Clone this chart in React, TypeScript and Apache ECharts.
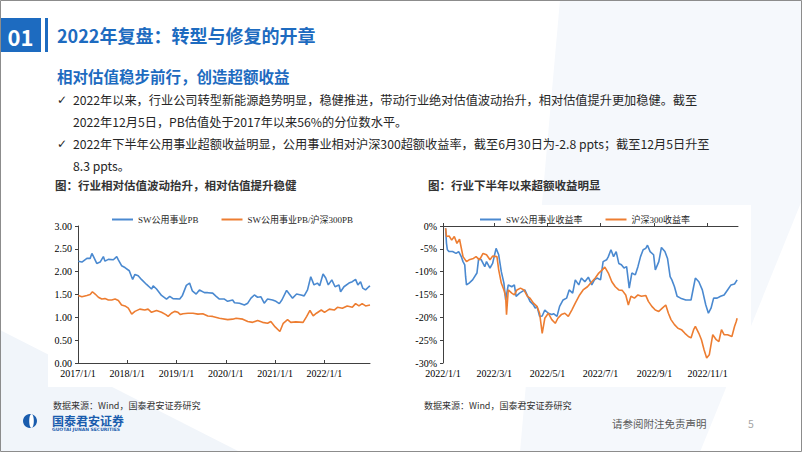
import React, { useEffect, useRef } from "react";
import * as echarts from "echarts";

// ---------- DATA ----------
const leftYearTicks = ["2017/1/1", "2018/1/1", "2019/1/1", "2020/1/1", "2021/1/1", "2022/1/1"];
const rightMonthTicks = ["2022/1/1", "2022/3/1", "2022/5/1", "2022/7/1", "2022/9/1", "2022/11/1"];

const pbUtility: [string, number][] = [
  ["2017-01-03", 2.23], ["2017-01-30", 2.21], ["2017-03-08", 2.29], ["2017-04-01", 2.29], ["2017-04-14", 2.4],
  ["2017-04-26", 2.33], ["2017-05-20", 2.18], ["2017-06-14", 2.21], ["2017-07-08", 2.33], ["2017-07-20", 2.23],
  ["2017-08-14", 2.27], ["2017-09-20", 2.26], ["2017-10-15", 2.33], ["2017-10-27", 2.26], ["2017-11-20", 2.13],
  ["2017-12-15", 2.09], ["2018-01-16", 2.02], ["2018-02-10", 1.83], ["2018-02-27", 1.94], ["2018-03-23", 1.91],
  ["2018-04-16", 1.83], ["2018-05-24", 1.72], ["2018-06-30", 1.62], ["2018-07-12", 1.69], ["2018-08-06", 1.62],
  ["2018-09-12", 1.48], ["2018-10-19", 1.4], ["2018-11-12", 1.46], ["2018-12-06", 1.41], ["2019-01-25", 1.4],
  ["2019-02-14", 1.48], ["2019-03-15", 1.7], ["2019-04-08", 1.75], ["2019-04-28", 1.58], ["2019-05-27", 1.51],
  ["2019-06-20", 1.6], ["2019-07-27", 1.54], ["2019-08-21", 1.54], ["2019-09-26", 1.53], ["2019-10-22", 1.46],
  ["2019-11-15", 1.4], ["2019-12-22", 1.4], ["2020-01-15", 1.35], ["2020-02-21", 1.38], ["2020-03-06", 1.32],
  ["2020-04-12", 1.31], ["2020-05-18", 1.27], ["2020-06-12", 1.31], ["2020-07-06", 1.42], ["2020-07-31", 1.49],
  ["2020-08-24", 1.44], ["2020-09-18", 1.45], ["2020-10-12", 1.31], ["2020-11-06", 1.4], ["2020-12-13", 1.38],
  ["2021-01-07", 1.35], ["2021-02-01", 1.3], ["2021-02-20", 1.38], ["2021-03-27", 1.59], ["2021-04-16", 1.51],
  ["2021-05-10", 1.42], ["2021-06-09", 1.51], ["2021-07-11", 1.49], ["2021-08-04", 1.47], ["2021-08-29", 1.6],
  ["2021-09-22", 1.89], ["2021-10-16", 1.71], ["2021-11-10", 1.75], ["2021-11-27", 1.69], ["2021-12-22", 1.95],
  ["2022-01-11", 1.86], ["2022-01-30", 1.71], ["2022-02-25", 1.82], ["2022-03-21", 1.67], ["2022-04-19", 1.71],
  ["2022-05-01", 1.56], ["2022-05-26", 1.67], ["2022-07-02", 1.75], ["2022-07-27", 1.78], ["2022-08-20", 1.83],
  ["2022-09-06", 1.71], ["2022-09-26", 1.78], ["2022-10-12", 1.64], ["2022-11-02", 1.6], ["2022-11-26", 1.67],
  ["2022-12-05", 1.69],
];

const pbRelative: [string, number][] = [
  ["2017-01-03", 1.48], ["2017-01-30", 1.45], ["2017-03-08", 1.48], ["2017-04-01", 1.5], ["2017-04-18", 1.56],
  ["2017-05-08", 1.51], ["2017-06-01", 1.44], ["2017-06-26", 1.4], ["2017-07-20", 1.41], ["2017-08-14", 1.38],
  ["2017-09-08", 1.38], ["2017-10-03", 1.4], ["2017-10-27", 1.37], ["2017-11-20", 1.27], ["2017-12-15", 1.25],
  ["2018-01-09", 1.2], ["2018-02-03", 1.07], ["2018-02-27", 1.13], ["2018-04-04", 1.18], ["2018-05-11", 1.16],
  ["2018-06-04", 1.18], ["2018-06-30", 1.11], ["2018-08-06", 1.15], ["2018-09-12", 1.11], ["2018-10-14", 1.06],
  ["2018-10-31", 1.02], ["2018-11-24", 1.09], ["2018-12-18", 1.13], ["2019-01-12", 1.11], ["2019-01-30", 1.06],
  ["2019-02-18", 1.08], ["2019-03-27", 1.09], ["2019-05-03", 1.09], ["2019-06-09", 1.07], ["2019-07-15", 1.08],
  ["2019-08-21", 1.03], ["2019-09-26", 1.02], ["2019-11-15", 0.98], ["2020-01-15", 0.95], ["2020-02-21", 0.96],
  ["2020-03-18", 0.98], ["2020-05-06", 0.96], ["2020-06-12", 0.91], ["2020-07-18", 0.89], ["2020-08-24", 0.93],
  ["2020-09-30", 0.89], ["2020-11-06", 0.87], ["2020-11-30", 0.91], ["2021-01-01", 0.79], ["2021-02-05", 0.69],
  ["2021-03-02", 0.87], ["2021-04-03", 0.95], ["2021-04-27", 0.89], ["2021-06-03", 0.9], ["2021-07-27", 0.89],
  ["2021-08-23", 1.02], ["2021-09-16", 1.15], ["2021-10-10", 1.03], ["2021-11-03", 1.09], ["2021-12-09", 1.16],
  ["2022-01-02", 1.11], ["2022-02-07", 1.18], ["2022-03-15", 1.16], ["2022-04-08", 1.22], ["2022-05-14", 1.2],
  ["2022-06-19", 1.25], ["2022-07-27", 1.22], ["2022-08-20", 1.3], ["2022-09-14", 1.25], ["2022-10-08", 1.3],
  ["2022-11-02", 1.25], ["2022-12-05", 1.27],
];

const retUtility: [string, number][] = [
  ["2022-01-04", -0.5], ["2022-01-05", -3.8], ["2022-01-06", -5.2], ["2022-01-08", -5.6], ["2022-01-12", -5.6],
  ["2022-01-16", -6.0], ["2022-01-19", -5.6], ["2022-01-22", -6.7], ["2022-01-24", -7.8], ["2022-01-26", -8.5],
  ["2022-01-27", -11.1], ["2022-01-28", -12.9], ["2022-01-31", -12.5], ["2022-02-04", -11.8], ["2022-02-09", -10.3],
  ["2022-02-11", -7.1], ["2022-02-14", -7.4], ["2022-02-18", -8.9], ["2022-02-20", -7.8], ["2022-02-24", -9.2],
  ["2022-02-27", -8.2], ["2022-03-03", -4.9], ["2022-03-06", -6.3], ["2022-03-09", -10.0], ["2022-03-12", -12.5],
  ["2022-03-14", -16.2], ["2022-03-17", -12.9], ["2022-03-21", -13.3], ["2022-03-24", -12.9], ["2022-03-26", -15.4],
  ["2022-03-30", -14.7], ["2022-04-05", -14.0], ["2022-04-11", -16.5], ["2022-04-15", -17.3], ["2022-04-17", -18.0],
  ["2022-04-19", -17.6], ["2022-04-22", -19.8], ["2022-04-25", -19.7], ["2022-04-28", -18.4], ["2022-05-02", -19.1],
  ["2022-05-06", -19.4], ["2022-05-08", -19.2], ["2022-05-12", -19.8], ["2022-05-15", -17.6], ["2022-05-19", -16.2],
  ["2022-05-23", -15.8], ["2022-05-26", -14.0], ["2022-05-30", -14.7], ["2022-06-02", -11.8], ["2022-06-06", -12.9],
  ["2022-06-09", -11.4], ["2022-06-13", -12.2], ["2022-06-17", -11.2], ["2022-06-21", -12.9], ["2022-06-24", -11.8],
  ["2022-06-27", -11.4], ["2022-07-01", -11.8], ["2022-07-04", -7.8], ["2022-07-08", -7.4], ["2022-07-10", -6.7],
  ["2022-07-13", -5.2], ["2022-07-16", -6.7], ["2022-07-19", -5.6], ["2022-07-22", -8.2], ["2022-07-25", -8.5],
  ["2022-07-28", -9.2], ["2022-07-31", -8.9], ["2022-08-03", -13.6], ["2022-08-06", -10.3], ["2022-08-10", -10.7],
  ["2022-08-13", -8.9], ["2022-08-16", -6.7], ["2022-08-19", -5.2], ["2022-08-22", -4.9], ["2022-08-24", -4.2],
  ["2022-08-27", -5.6], ["2022-08-31", -6.3], ["2022-09-02", -9.6], ["2022-09-06", -7.8], ["2022-09-09", -4.7],
  ["2022-09-13", -5.6], ["2022-09-16", -7.1], ["2022-09-19", -11.1], ["2022-09-21", -11.8], ["2022-09-24", -13.3],
  ["2022-09-27", -15.4], ["2022-10-01", -15.8], ["2022-10-07", -16.2], ["2022-10-13", -16.2], ["2022-10-16", -13.3],
  ["2022-10-18", -11.4], ["2022-10-22", -12.2], ["2022-10-26", -14.0], ["2022-10-30", -17.3], ["2022-11-02", -19.1],
  ["2022-11-05", -18.0], ["2022-11-08", -15.8], ["2022-11-12", -15.8], ["2022-11-16", -15.4], ["2022-11-20", -15.1],
  ["2022-11-24", -14.0], ["2022-11-28", -12.9], ["2022-12-02", -12.7], ["2022-12-05", -11.8],
];

const retHS300: [string, number][] = [
  ["2022-01-04", -0.5], ["2022-01-05", -2.3], ["2022-01-08", -2.2], ["2022-01-11", -3.1], ["2022-01-14", -2.3],
  ["2022-01-17", -3.8], ["2022-01-20", -2.9], ["2022-01-24", -6.7], ["2022-01-28", -7.8], ["2022-01-31", -7.4],
  ["2022-02-05", -7.1], ["2022-02-08", -6.7], ["2022-02-12", -7.4], ["2022-02-16", -6.0], ["2022-02-20", -6.3],
  ["2022-02-24", -7.4], ["2022-02-27", -6.6], ["2022-03-04", -6.7], ["2022-03-06", -9.6], ["2022-03-09", -12.5],
  ["2022-03-12", -14.0], ["2022-03-14", -15.4], ["2022-03-15", -19.4], ["2022-03-17", -14.0], ["2022-03-21", -14.7],
  ["2022-03-24", -15.1], ["2022-03-27", -14.0], ["2022-03-31", -13.6], ["2022-04-04", -14.0], ["2022-04-08", -15.4],
  ["2022-04-11", -15.8], ["2022-04-15", -16.9], ["2022-04-19", -17.6], ["2022-04-22", -19.1], ["2022-04-25", -23.5],
  ["2022-04-28", -20.2], ["2022-05-02", -19.1], ["2022-05-06", -20.5], ["2022-05-10", -21.3], ["2022-05-13", -20.2],
  ["2022-05-17", -19.4], ["2022-05-21", -19.1], ["2022-05-25", -19.8], ["2022-05-29", -18.4], ["2022-06-02", -16.9],
  ["2022-06-07", -15.1], ["2022-06-11", -14.0], ["2022-06-16", -13.3], ["2022-06-21", -12.2], ["2022-06-25", -11.4],
  ["2022-06-29", -10.3], ["2022-07-03", -9.6], ["2022-07-06", -9.0], ["2022-07-10", -10.3], ["2022-07-14", -12.2],
  ["2022-07-18", -13.3], ["2022-07-22", -14.0], ["2022-07-26", -14.1], ["2022-07-30", -15.1], ["2022-08-02", -17.3],
  ["2022-08-05", -15.4], ["2022-08-09", -15.8], ["2022-08-13", -15.1], ["2022-08-17", -15.4], ["2022-08-22", -15.2],
  ["2022-08-25", -16.5], ["2022-08-29", -17.6], ["2022-09-02", -18.4], ["2022-09-06", -18.7], ["2022-09-10", -18.0],
  ["2022-09-14", -17.3], ["2022-09-17", -19.1], ["2022-09-20", -20.5], ["2022-09-24", -21.6], ["2022-09-28", -22.4],
  ["2022-10-02", -22.7], ["2022-10-06", -23.5], ["2022-10-10", -24.2], ["2022-10-13", -24.5], ["2022-10-16", -22.7],
  ["2022-10-18", -22.0], ["2022-10-22", -23.5], ["2022-10-25", -24.9], ["2022-10-28", -27.1], ["2022-10-31", -28.9],
  ["2022-11-03", -28.2], ["2022-11-07", -23.8], ["2022-11-11", -24.9], ["2022-11-14", -25.3], ["2022-11-17", -22.7],
  ["2022-11-20", -23.8], ["2022-11-24", -23.8], ["2022-11-29", -24.2], ["2022-12-02", -22.0], ["2022-12-04", -20.9],
  ["2022-12-05", -20.2],
];

const titleText = "2022年复盘：转型与修复的开章";
const subtitleText = "相对估值稳步前行，创造超额收益";
const bulletLines = [
  { check: true, text: "2022年以来，行业公司转型新能源趋势明显，稳健推进，带动行业绝对估值波动抬升，相对估值提升更加稳健。截至" },
  { check: false, text: "2022年12月5日，PB估值处于2017年以来56%的分位数水平。" },
  { check: true, text: "2022年下半年公用事业超额收益明显，公用事业相对沪深300超额收益率，截至6月30日为-2.8 ppts；截至12月5日升至" },
  { check: false, text: "8.3 ppts。" },
];
const leftCaption = "图：行业相对估值波动抬升，相对估值提升稳健";
const rightCaption = "图：行业下半年以来超额收益明显";
const sourceText = "数据来源：Wind，国泰君安证券研究";

// ---------- HELPERS ----------
const toTime = (s: string) => {
  const [y, m, d] = s.split(/[\/-]/).map(Number);
  return new Date(y, m - 1, d).getTime();
};
const fmtDate = (v: number) => {
  const d = new Date(v);
  return `${d.getFullYear()}/${d.getMonth() + 1}/${d.getDate()}`;
};
const toSeries = (arr: [string, number][]) => arr.map(([d, v]) => [toTime(d), v]);

const BLUE = "#4A89D0";
const ORANGE = "#ED7D31";
const BRAND = "#1D6BC0";
const CJK = '"Noto Sans CJK SC", "DejaVu Sans", sans-serif';
const SERIF = '"Liberation Serif", "Noto Sans CJK SC", serif';
const AXIS = "#404040";

const txt = (x: number, y: number, text: string, fill: string, font: string, size: number, align = "left") => ({
  type: "text",
  x,
  y,
  style: { text, fill, font, textAlign: align, textVerticalAlign: "middle", lineHeight: size },
});

export default function App() {
  const ref = useRef<HTMLDivElement>(null);

  useEffect(() => {
    if (!ref.current) return;
    const chart = echarts.init(ref.current, undefined, { renderer: "svg" });

    const bulletY = [100, 122, 144, 166];
    const graphics: any[] = [
      { type: "rect", shape: { x: 0, y: 0, width: 802, height: 452 }, style: { fill: "#FFFFFF" }, z: -10, silent: true },
      { type: "polygon", shape: { points: [[560, 0], [802, 0], [802, 200], [700, 452], [520, 452]] }, style: { fill: "#F5F8FC" }, z: -9, silent: true },
      { type: "polygon", shape: { points: [[0, 330], [240, 452], [0, 452]] }, style: { fill: "#F1F5FA" }, z: -9, silent: true },
      { type: "rect", shape: { x: 48, y: 205, width: 344, height: 182 }, style: { fill: "#FFFFFF" }, z: -8, silent: true },
      { type: "rect", shape: { x: 411, y: 205, width: 340, height: 182 }, style: { fill: "#FFFFFF" }, z: -8, silent: true },
      { type: "rect", shape: { x: 0.5, y: 0.5, width: 801, height: 451 }, style: { fill: "none", stroke: "#8C8C8C", lineWidth: 1 }, z: 50, silent: true },
      { type: "rect", shape: { x: 0, y: 18, width: 41, height: 34 }, style: { fill: BRAND } },
      txt(20.5, 35.5, "01", "#FFFFFF", `bold 22px ${CJK}`, 22, "center"),
      { type: "rect", shape: { x: 45, y: 18, width: 3, height: 34 }, style: { fill: BRAND } },
      txt(57, 35, titleText, BRAND, `bold 18px ${CJK}`, 18),
      txt(57, 76, subtitleText, BRAND, `bold 15.5px ${CJK}`, 16),
      txt(55, 185, leftCaption, "#333333", `bold 11.5px ${CJK}`, 12),
      txt(428, 185, rightCaption, "#333333", `bold 11.5px ${CJK}`, 12),
      txt(53, 405, sourceText, "#333333", `9px ${CJK}`, 9),
      txt(424, 405, sourceText, "#333333", `9px ${CJK}`, 9),
      txt(612, 423, "请参阅附注免责声明", "#595959", `10.5px ${CJK}`, 11),
      txt(748, 423, "5", "#A6A6A6", `10.5px ${CJK}`, 11),
      { type: "circle", shape: { cx: 30, cy: 421, r: 7 }, style: { fill: "#1A5CAD" } },
      { type: "ellipse", shape: { cx: 31.5, cy: 421, rx: 2.3, ry: 7 }, style: { fill: "#FFFFFF" } },
      txt(52, 420, "国泰君安证券", "#1A5CAD", `bold 12px ${CJK}`, 12),
      txt(52, 429.5, "GUOTAI JUNAN SECURITIES", "#1A5CAD", `bold 4.5px "DejaVu Sans", sans-serif`, 4.5),
    ];
    bulletLines.forEach((b, i) => {
      if (b.check) graphics.push(txt(57, bulletY[i], "✓", "#262626", `12px "DejaVu Sans", sans-serif`, 12));
      graphics.push(txt(73, bulletY[i], b.text, "#262626", `12.2px ${CJK}`, 13));
    });

    const axisLabelStyle = { color: "#000000", fontSize: 10, fontFamily: SERIF };
    const legendBase = {
      icon: "rect",
      itemWidth: 21,
      itemHeight: 2,
      itemGap: 23,
      top: 210,
      textStyle: { fontSize: 9, fontFamily: SERIF, color: "#262626" },
    };

    chart.setOption({
      animation: false,
      backgroundColor: "#FFFFFF",
      graphic: graphics,
      legend: [
        { ...legendBase, data: ["SW公用事业PB", "SW公用事业PB/沪深300PB"], left: 107 },
        { ...legendBase, data: ["SW公用事业收益率", "沪深300收益率"], left: 475 },
      ],
      grid: [
        { left: 78, top: 226, width: 292, height: 137 },
        { left: 443, top: 226, width: 295, height: 137 },
      ],
      xAxis: [
        {
          type: "value", gridIndex: 0, min: toTime("2017-01-01"), max: toTime("2022-12-05"),
          position: "bottom",
          axisLine: { show: true, onZero: false, lineStyle: { color: AXIS, width: 1 } },
          axisTick: { show: true, inside: true, length: 3, lineStyle: { color: AXIS }, customValues: leftYearTicks.map(toTime) },
          axisLabel: { ...axisLabelStyle, margin: 5, formatter: fmtDate, customValues: leftYearTicks.map(toTime), hideOverlap: false },
          splitLine: { show: false },
        },
        {
          type: "value", gridIndex: 1, min: toTime("2022-01-01"), max: toTime("2022-12-06"),
          position: "top",
          axisLine: { show: true, onZero: false, lineStyle: { color: AXIS, width: 1 } },
          axisTick: { show: true, inside: false, length: 3, lineStyle: { color: AXIS }, customValues: rightMonthTicks.map(toTime) },
          axisLabel: { show: false },
          splitLine: { show: false },
        },
        {
          type: "value", gridIndex: 1, min: toTime("2022-01-01"), max: toTime("2022-12-06"),
          position: "bottom",
          axisLine: { show: false, onZero: false },
          axisTick: { show: false },
          axisLabel: { ...axisLabelStyle, margin: 5, formatter: fmtDate, customValues: rightMonthTicks.map(toTime), hideOverlap: false },
          splitLine: { show: false },
        },
      ],
      yAxis: [
        {
          type: "value", gridIndex: 0, min: 0, max: 3, interval: 0.5,
          axisLine: { show: true, lineStyle: { color: AXIS, width: 1 } },
          axisTick: { show: true, inside: false, length: 3, lineStyle: { color: AXIS } },
          axisLabel: { ...axisLabelStyle, margin: 6, formatter: (v: number) => v.toFixed(2) },
          splitLine: { show: false },
        },
        {
          type: "value", gridIndex: 1, min: -30, max: 0, interval: 5,
          axisLine: { show: true, lineStyle: { color: AXIS, width: 1 } },
          axisTick: { show: true, inside: false, length: 3, lineStyle: { color: AXIS } },
          axisLabel: { ...axisLabelStyle, margin: 6, formatter: (v: number) => `${v}%` },
          splitLine: { show: false },
        },
      ],
      series: [
        { name: "SW公用事业PB", type: "line", xAxisIndex: 0, yAxisIndex: 0, data: toSeries(pbUtility), symbol: "none", lineStyle: { color: BLUE, width: 1.6 }, itemStyle: { color: BLUE } },
        { name: "SW公用事业PB/沪深300PB", type: "line", xAxisIndex: 0, yAxisIndex: 0, data: toSeries(pbRelative), symbol: "none", lineStyle: { color: ORANGE, width: 1.6 }, itemStyle: { color: ORANGE } },
        { name: "SW公用事业收益率", type: "line", xAxisIndex: 1, yAxisIndex: 1, data: toSeries(retUtility), symbol: "none", lineStyle: { color: BLUE, width: 1.6 }, itemStyle: { color: BLUE } },
        { name: "沪深300收益率", type: "line", xAxisIndex: 1, yAxisIndex: 1, data: toSeries(retHS300), symbol: "none", lineStyle: { color: ORANGE, width: 1.6 }, itemStyle: { color: ORANGE } },
      ],
    });

    return () => chart.dispose();
  }, []);

  return <div ref={ref} style={{ position: "fixed", left: 0, top: 0, width: 802, height: 452 }} />;
}
